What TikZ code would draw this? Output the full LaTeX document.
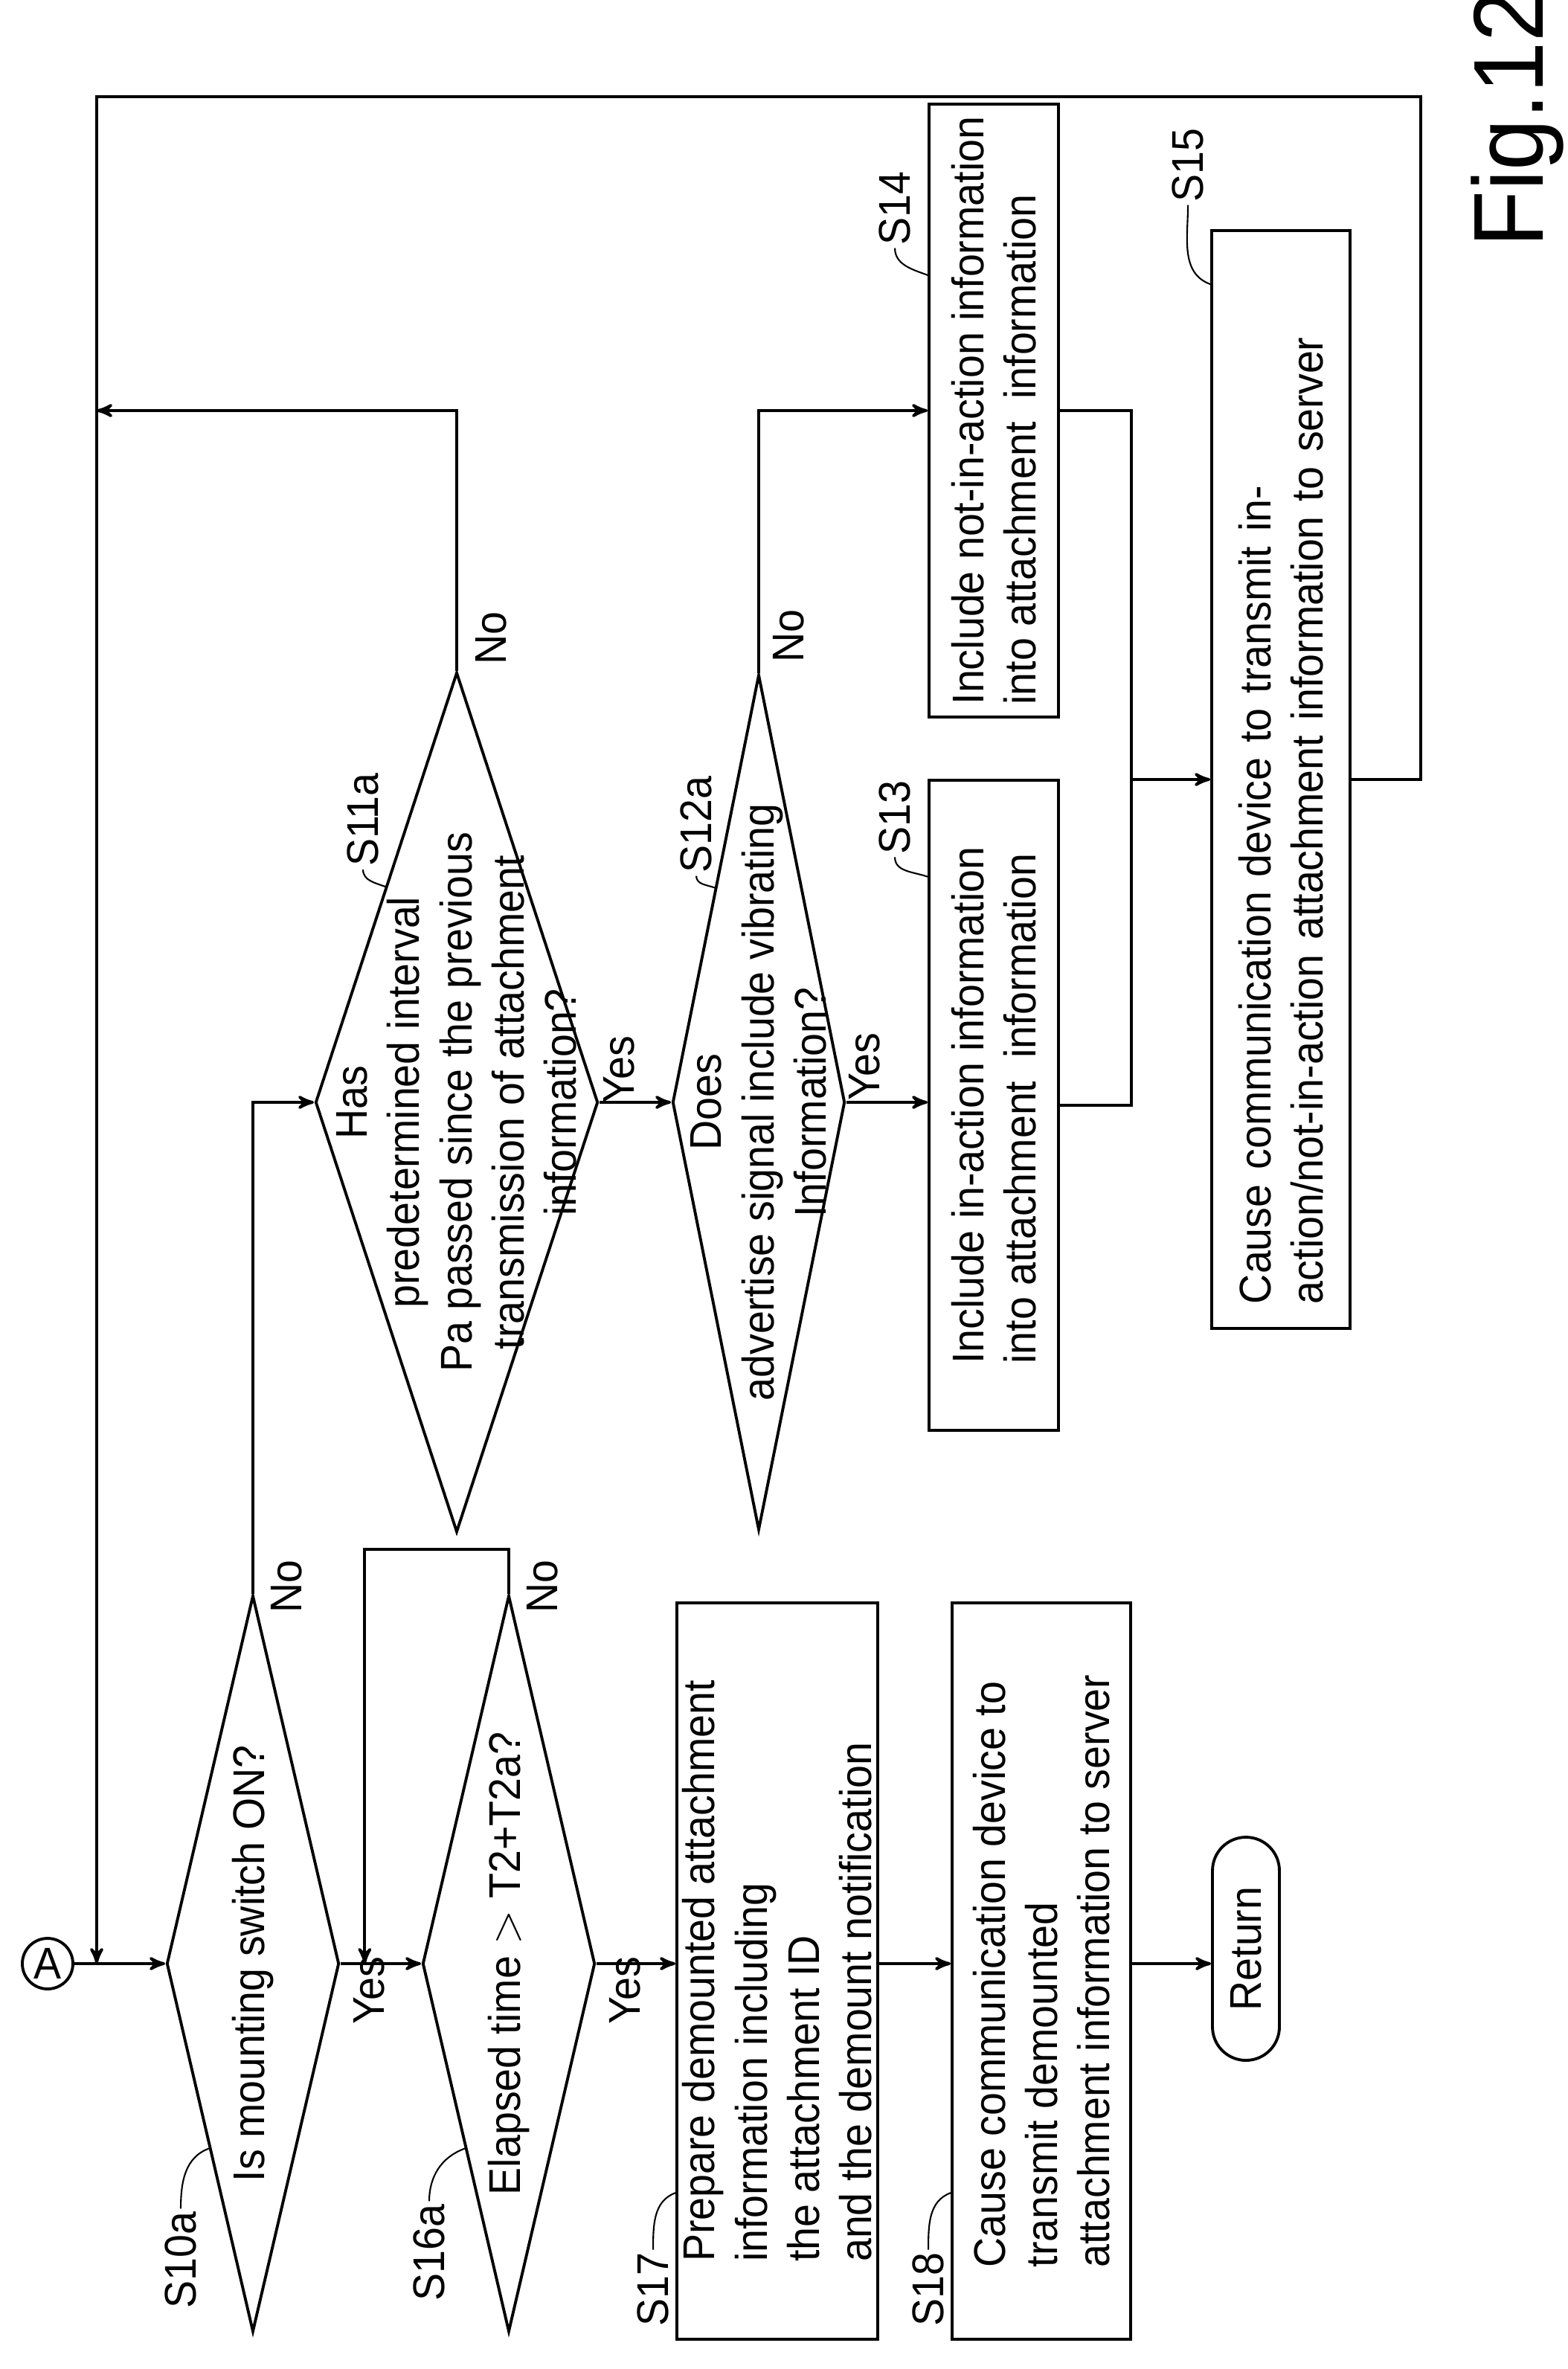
\documentclass[tikz,border=0pt]{standalone}
\usepackage{fontspec}
\setmainfont{Liberation Sans}[FakeStretch=0.93]
\usepackage{tikz}
\usetikzlibrary{shapes,arrows,calc}
\tikzstyle{decision} = [diamond, rotate=90, minimum width=9.9cm, minimum height=2.32cm, inner sep=0pt, draw=black, line width=1.1pt]
\tikzstyle{process} = [rectangle, rotate=90, minimum height=1.74cm, align=left, inner sep=0pt, draw=black, line width=1.1pt]
\tikzstyle{startstop} = [rectangle, rounded corners=0.45cm, rotate=90, minimum width=3cm, minimum height=0.9cm, draw=black, line width=1.1pt]
\tikzstyle{txt} = [rotate=90, align=center, inner sep=0pt]
\tikzstyle{steplabel} = [rotate=90, inner sep=1pt]
\tikzstyle{lead} = [line width=0.6pt]
\tikzstyle{arrow} = [line width=1.1pt,->,>=stealth']
\begin{document}
\begin{tikzpicture}[font=\fontsize{17}{20}\selectfont]
\useasboundingbox (0,0) rectangle (21.08,-31.85);
% bottom row
\node (a) [circle, draw=black, line width=1.1pt, minimum size=0.68cm, inner sep=0pt] at (0.64,-26.4) {A};
\node (s10) [decision] at (3.4,-26.4) {};
\node (s10t) [txt] at (s10) {Is mounting switch ON?};
\node (s16) [decision] at (6.84,-26.4) {};
\node (s16t) [txt] at (s16) {Elapsed time $>$ T2+T2a?};
\node (s17) [process, minimum width=9.9cm, minimum height=2.7cm] at (10.45,-26.5) {Prepare demounted attachment\\information including\\the attachment ID\\and the demount notification};
\node (s18) [process, minimum width=9.9cm, minimum height=2.4cm] at (14.0,-26.5) {Cause communication device to\\transmit demounted\\attachment information to server};
\node (ret) [startstop] at (16.75,-26.2) {Return};
% upper part
\node (s11) [decision, minimum width=11.56cm, minimum height=3.8cm] at (6.14,-14.82) {};
\node (s11t) [txt] at (s11) {Has\\predetermined interval\\Pa passed since the previous\\transmission of attachment\\information?};
\node (s12) [decision, minimum width=11.5cm] at (10.2,-14.82) {};
\node (s12t) [txt] at (s12) {Does\\advertise signal include vibrating\\Information?};
\node (s13) [process, minimum width=8.74cm] at (13.36,-14.86) {Include in-action information\\into attachment\ \ information};
\node (s14) [process, minimum width=8.24cm] at (13.36,-5.52) {Include not-in-action information\\into attachment\ \ information};
\node (s15) [process, minimum width=14.76cm, minimum height=1.86cm, text width=14.1cm] at (17.22,-10.48) {Cause communication device to transmit in-\\action/not-in-action attachment information to server};
\node (fig) [rotate=90, font=\fontsize{38}{40}\selectfont] at (20.4,-1.6) {Fig.12};
\coordinate (lt) at (1.3,-1.3);
\coordinate (rt) at (19.1,-1.3);
\coordinate (jn) at ($(s15.north)+(-1.06,0)$);
% step labels
\node (l10) [steplabel] at ($($(s10.north)!0.5!(s10.west)$)+(-0.38,-1.5)$) {S10a};
\node (l16) [steplabel] at ($($(s16.north)!0.5!(s16.west)$)+(-0.48,-1.4)$) {S16a};
\node (l17) [steplabel] at ($($(s17.north west)!0.2!(s17.north east)$)+(-0.3,-1.3)$) {S17};
\node (l18) [steplabel] at ($($(s18.north west)!0.2!(s18.north east)$)+(-0.3,-1.3)$) {S18};
\node (l11) [steplabel] at ($($(s11.east)!0.5!(s11.north)$)+(-0.3,0.9)$) {S11a};
\node (l12) [steplabel] at ($($(s12.east)!0.5!(s12.north)$)+(-0.25,0.85)$) {S12a};
\node (l13) [steplabel] at ($($(s13.north east)!0.15!(s13.north west)$)+(-0.44,0.8)$) {S13};
\node (l14) [steplabel] at ($($(s14.north east)!0.28!(s14.north west)$)+(-0.44,0.9)$) {S14};
\node (l15) [steplabel] at ($($(s15.north east)!0.05!(s15.north west)$)+(-0.3,1.6)$) {S15};
\draw [lead] (l10.east) to[out=90,in=200] ($(s10.north)!0.5!(s10.west)$);
\draw [lead] (l16.east) to[out=90,in=200] ($(s16.north)!0.5!(s16.west)$);
\draw [lead] (l17.east) to[out=90,in=200] ($(s17.north west)!0.2!(s17.north east)$);
\draw [lead] (l18.east) to[out=90,in=200] ($(s18.north west)!0.2!(s18.north east)$);
\draw [lead] (l11.west) to[out=-90,in=160] ($(s11.east)!0.5!(s11.north)$);
\draw [lead] (l12.west) to[out=-90,in=160] ($(s12.east)!0.5!(s12.north)$);
\draw [lead] (l13.west) to[out=-90,in=160] ($(s13.north east)!0.15!(s13.north west)$);
\draw [lead] (l14.west) to[out=-90,in=160] ($(s14.north east)!0.28!(s14.north west)$);
\draw [lead] (l15.west) to[out=-90,in=160] ($(s15.north east)!0.05!(s15.north west)$);
% yes / no
\node [steplabel] at ($(s10.east)+(0.45,0.1)$) {No};
\node [steplabel] at ($(s10.south)+(0.38,-0.36)$) {Yes};
\node [steplabel] at ($(s16.east)+(0.45,0.1)$) {No};
\node [steplabel] at ($(s16.south)+(0.38,-0.36)$) {Yes};
\node [steplabel] at ($(s11.east)+(0.46,0.44)$) {No};
\node [steplabel] at ($(s11.south)+(0.26,0.44)$) {Yes};
\node [steplabel] at ($(s12.east)+(0.4,0.5)$) {No};
\node [steplabel] at ($(s12.south)+(0.24,0.48)$) {Yes};
% connectors
\draw [arrow] (a) -- (s10.north);
\draw [arrow] (s10.south) -- (s16.north);
\draw [arrow] (s10.east) |- (s11.north);
\draw [arrow] (s16.east) -- ++(0,0.6) -| ($(s10.south)!0.3!(s16.north)$);
\draw [arrow] (s16.south) -- (s16.south -| s17.north);
\draw [arrow] (s17.south |- s16.south) -- (s18.north |- s16.south);
\draw [arrow] (s18.south |- s16.south) -- (ret.north |- s16.south);
\draw [arrow] (s11.south) -- (s11.south -| s12.north);
\draw [arrow] (s12.south) -- (s12.south -| s13.north);
\draw [arrow] (s12.east) |- (s14.north);
\draw [arrow] (s11.east) |- (lt |- s14.north);
\draw [line width=1.1pt] (s13.south) -| (jn);
\draw [line width=1.1pt] (s14.south) -| (jn);
\draw [arrow] (jn) -- (s15.north);
\draw [arrow] (s15.south) -| (rt) -- (lt) -- (lt |- a.east);
\end{tikzpicture}
\end{document}
